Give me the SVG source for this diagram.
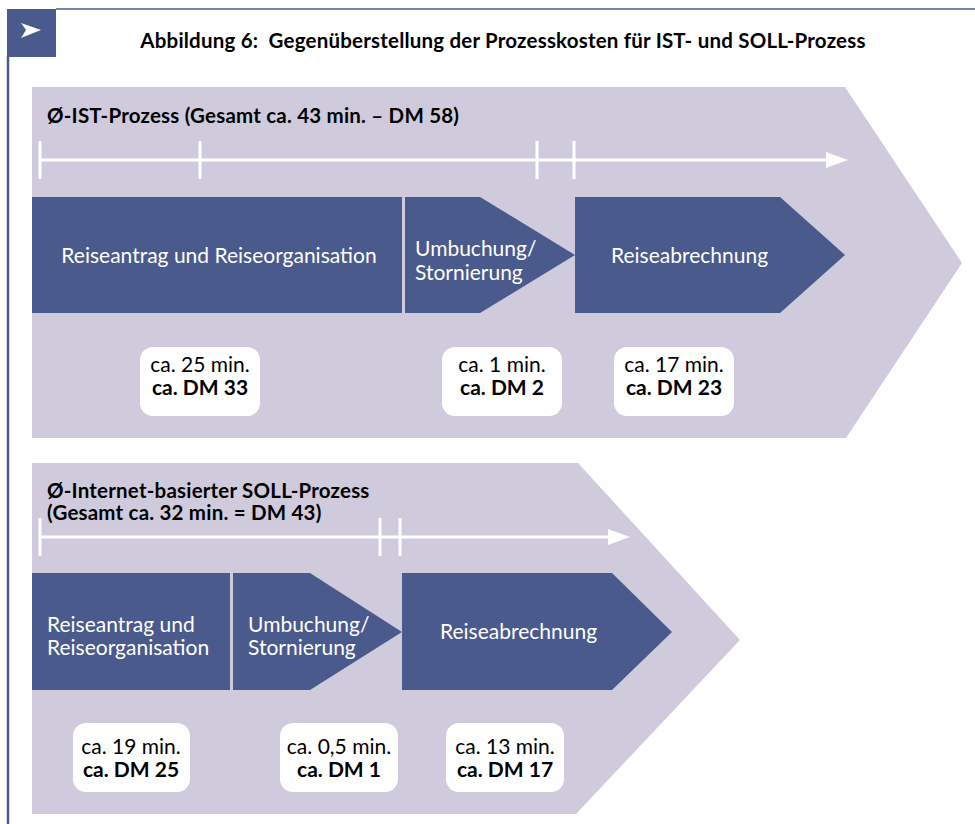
<svg xmlns="http://www.w3.org/2000/svg" width="975" height="824" viewBox="0 0 975 824">
<defs>
<style>
.bg{fill:#cfcbdc}
.blk{fill:#4a5a8c}
.tl{stroke:#fff;stroke-width:3;fill:none}
.box{fill:#fff}
text{font-family:Lato,"Open Sans",sans-serif}
.h{font-weight:bold;font-size:20.5px;fill:#000;letter-spacing:0.2px}
.w{font-size:21px;fill:#fff}
.c{font-size:21px;fill:#000;text-anchor:middle}
.b{font-weight:bold}
</style>
</defs>
<rect width="975" height="824" fill="#fff"/>
<g id="frame">
<line x1="56" y1="9" x2="975" y2="9" stroke="#4a5a8c" stroke-width="1.5"/>
<line x1="8" y1="56" x2="8" y2="824" stroke="#4a5a8c" stroke-width="2.5"/>
<rect x="7" y="9" width="49" height="48" class="blk"/>
<polygon points="21,23 41,30 21,38 26,30" fill="#fff"/>
<text x="503" y="48" class="h" text-anchor="middle" xml:space="preserve">Abbildung 6:  Gegenüberstellung der Prozesskosten für IST- und SOLL-Prozess</text>
</g>
<g id="ist">
<polygon class="bg" points="32,87 845,87 962,263 846,438 32,438"/>
<text x="47" y="123" class="h">Ø-IST-Prozess (Gesamt ca. 43 min. – DM 58)</text>
</g>
<g id="ist-timeline">
<line class="tl" x1="40" y1="160" x2="828" y2="160"/>
<polygon points="826,152 848,160 826,168" fill="#fff"/>
<line class="tl" x1="40" y1="141" x2="40" y2="179"/>
<line class="tl" x1="200" y1="141" x2="200" y2="179"/>
<line class="tl" x1="537" y1="141" x2="537" y2="179"/>
<line class="tl" x1="574" y1="141" x2="574" y2="179"/>
</g>
<g id="ist-reiseantrag">
<rect class="blk" x="32" y="197" width="370" height="116"/>
<text x="219" y="263" class="w" text-anchor="middle">Reiseantrag und Reiseorganisation</text>
</g>
<g id="ist-umbuchung">
<polygon class="blk" points="405,197 480,197 575,255 480,313 405,313"/>
<text class="w"><tspan x="415" y="256">Umbuchung/</tspan><tspan x="415" y="280">Stornierung</tspan></text>
</g>
<g id="ist-abrechnung">
<polygon class="blk" points="575,197 780,197 845,255 780,313 575,313"/>
<text x="611" y="263" class="w">Reiseabrechnung</text>
</g>
<g id="ist-cost1">
<rect class="box" x="140" y="347" width="120" height="69" rx="13"/>
<text class="c"><tspan x="200" y="372">ca. 25 min.</tspan><tspan x="200" y="395" class="b">ca. DM 33</tspan></text>
</g>
<g id="ist-cost2">
<rect class="box" x="442" y="347" width="120" height="69" rx="13"/>
<text class="c"><tspan x="502" y="372">ca. 1 min.</tspan><tspan x="502" y="395" class="b">ca. DM 2</tspan></text>
</g>
<g id="ist-cost3">
<rect class="box" x="614" y="347" width="120" height="69" rx="13"/>
<text class="c"><tspan x="674" y="372">ca. 17 min.</tspan><tspan x="674" y="395" class="b">ca. DM 23</tspan></text>
</g>
<g id="soll">
<polygon class="bg" points="32,463 578,463 740,640 576,814 32,814"/>
<text class="h"><tspan x="47" y="498">Ø-Internet-basierter SOLL-Prozess</tspan><tspan x="47" y="520">(Gesamt ca. 32 min. = DM 43)</tspan></text>
</g>
<g id="soll-timeline">
<line class="tl" x1="40" y1="537" x2="610" y2="537"/>
<polygon points="608,529 630,537 608,545" fill="#fff"/>
<line class="tl" x1="40" y1="518" x2="40" y2="556"/>
<line class="tl" x1="380" y1="518" x2="380" y2="556"/>
<line class="tl" x1="400" y1="518" x2="400" y2="556"/>
</g>
<g id="soll-reiseantrag">
<rect class="blk" x="32" y="573" width="198" height="117"/>
<text class="w"><tspan x="47" y="632">Reiseantrag und</tspan><tspan x="47" y="655">Reiseorganisation</tspan></text>
</g>
<g id="soll-umbuchung">
<polygon class="blk" points="233,573 310,573 402,632 310,690 233,690"/>
<text class="w"><tspan x="248" y="632">Umbuchung/</tspan><tspan x="248" y="655">Stornierung</tspan></text>
</g>
<g id="soll-abrechnung">
<polygon class="blk" points="402,573 612,573 672,632 612,690 402,690"/>
<text x="440" y="639" class="w">Reiseabrechnung</text>
</g>
<g id="soll-cost1">
<rect class="box" x="73" y="723" width="117" height="69" rx="13"/>
<text class="c"><tspan x="131" y="754">ca. 19 min.</tspan><tspan x="131" y="777" class="b">ca. DM 25</tspan></text>
</g>
<g id="soll-cost2">
<rect class="box" x="280" y="723" width="118" height="69" rx="13"/>
<text class="c"><tspan x="339" y="754">ca. 0,5 min.</tspan><tspan x="339" y="777" class="b">ca. DM 1</tspan></text>
</g>
<g id="soll-cost3">
<rect class="box" x="446" y="723" width="118" height="69" rx="13"/>
<text class="c"><tspan x="505" y="754">ca. 13 min.</tspan><tspan x="505" y="777" class="b">ca. DM 17</tspan></text>
</g>
</svg>
